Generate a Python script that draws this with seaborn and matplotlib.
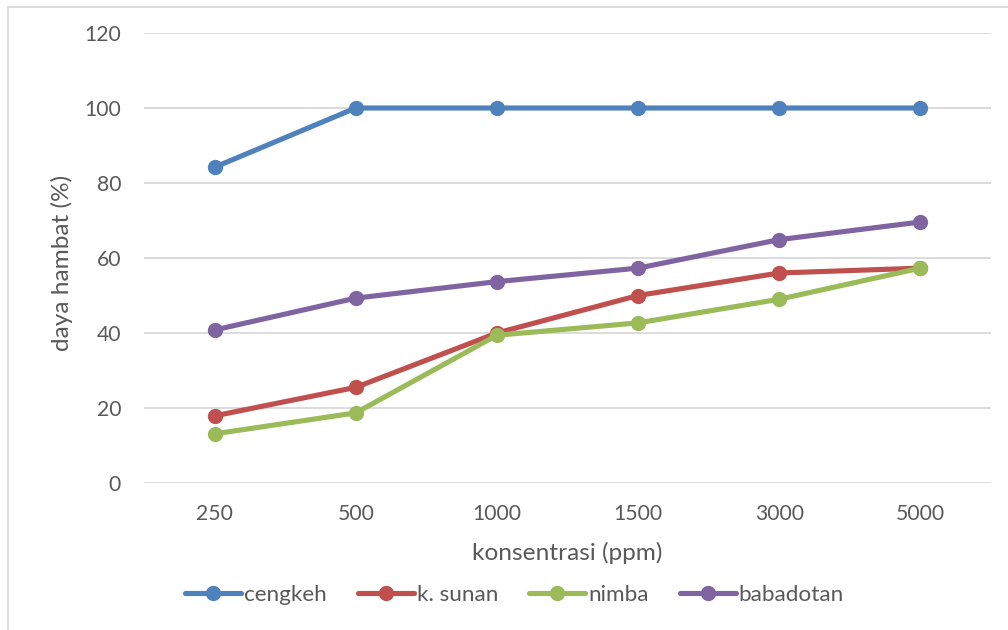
import numpy as np
import pandas as pd
import matplotlib
matplotlib.use("Agg")
import matplotlib.pyplot as plt
from matplotlib.patches import Rectangle
import seaborn as sns

# Concentrations (ppm) and inhibition (%) for each extract
konsentrasi = ["250", "500", "1000", "1500", "3000", "5000"]
cengkeh = [84.2, 100, 100, 100, 100, 100]
k_sunan = [17.9, 25.5, 40.0, 50.0, 56.0, 57.3]
nimba = [13.1, 18.7, 39.4, 42.7, 49.0, 57.3]
babadotan = [40.8, 49.3, 53.7, 57.3, 64.9, 69.6]

ekstrak = ["cengkeh", "k. sunan", "nimba", "babadotan"]
warna = ["#4F81BD", "#C0504D", "#9BBB59", "#8064A2"]
y_ticks = [0, 20, 40, 60, 80, 100, 120]

df = pd.DataFrame({
    "konsentrasi": konsentrasi * 4,
    "daya_hambat": cengkeh + k_sunan + nimba + babadotan,
    "ekstrak": np.repeat(ekstrak, len(konsentrasi)),
})

sns.set_theme(style="white")
plt.rcParams["font.family"] = ["Lato", "DejaVu Sans"]
text_color = "#595959"
grid_color = "#D9D9D9"

W, H = 1008, 630
fig = plt.figure(figsize=(W / 100, H / 100), dpi=100)
ax = fig.add_axes([144 / W, 1 - 483 / H, 847 / W, 450 / H])

sns.pointplot(
    data=df, x="konsentrasi", y="daya_hambat", hue="ekstrak",
    order=konsentrasi, hue_order=ekstrak, palette=warna,
    markers="o", linestyles="-", errorbar=None, dodge=False,
    markersize=11, linewidth=3.7, markeredgewidth=0,
    legend=False, ax=ax,
)

ax.set_xlim(-0.5, len(konsentrasi) - 0.5)
ax.set_ylim(0, 120)
ax.set_yticks(y_ticks)
ax.set_yticklabels([str(v) for v in y_ticks])
ax.set_axisbelow(True)
ax.grid(axis="y", color=grid_color, linewidth=1.3)
ax.grid(axis="x", visible=False)
for s in ax.spines.values():
    s.set_visible(False)
ax.tick_params(axis="both", length=0, labelsize=15.2, labelcolor=text_color)
ax.tick_params(axis="y", pad=16.5)
ax.tick_params(axis="x", pad=15)

ax.set_xlabel("konsentrasi (ppm)", fontsize=17.6, color=text_color)
ax.set_ylabel("daya hambat (%)", fontsize=17.6, color=text_color)
ax.xaxis.set_label_coords(0.5, (483 - 560) / 450)
ax.xaxis.label.set_va("baseline")
ax.yaxis.set_label_coords((62 - 144) / 847, 0.49)
ax.yaxis.label.set_va("center")

handles = ax.lines[:len(ekstrak)]
leg_fs = 16.2
leg_px = leg_fs * 100 / 72
ax.legend(
    handles, ekstrak, loc="center", ncol=4, frameon=False,
    bbox_to_anchor=(514.5 / W, 1 - 595 / H), bbox_transform=fig.transFigure,
    fontsize=leg_fs, labelcolor=text_color, numpoints=1,
    handlelength=56 / leg_px, handletextpad=3 / leg_px,
    columnspacing=31 / leg_px, borderpad=0, borderaxespad=0,
)

# Chart frame
fig.add_artist(Rectangle((8 / W, -0.1), 1.2, 1.1 - 7 / H, transform=fig.transFigure,
                         fill=False, edgecolor=grid_color, linewidth=1.3))

fig.savefig("out.png", dpi=100, facecolor="white")
